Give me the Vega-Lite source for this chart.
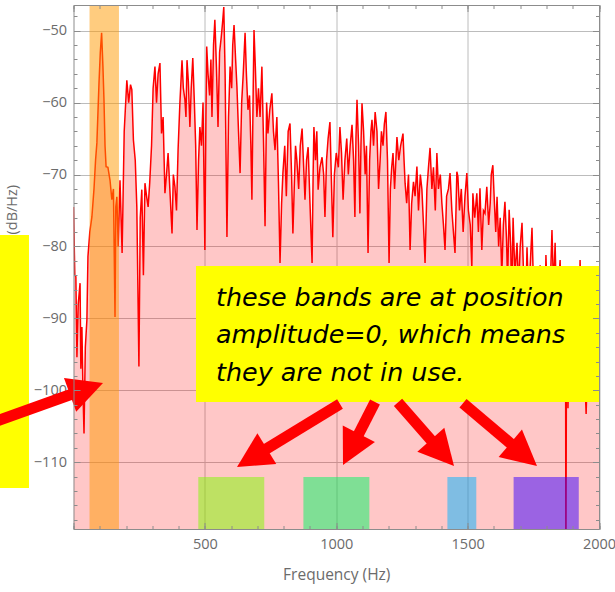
{
  "$schema": "https://vega.github.io/schema/vega-lite/v6.json",
  "width": 525.5,
  "height": 524,
  "autosize": "none",
  "padding": {"left": 73.5, "top": 5, "right": 16, "bottom": 63},
  "background": "white",
  "config": {"view": {"stroke": null}, "axis": {"labelFont": "Open Sans", "titleFont": "Open Sans"}},
  "resolve": {"axis": {"x": "independent", "y": "independent"}},
  "datasets": {
    "spectrum": [
      {"f":0,"p":-74.5},{"f":5,"p":-84},{"f":9,"p":-84.2},{"f":13,"p":-95.4},{"f":18,"p":-88},{"f":25,"p":-85.1},{"f":28,"p":-97},{"f":32,"p":-91.2},{"f":36,"p":-100},{"f":40,"p":-106},{"f":45,"p":-94},{"f":51,"p":-90.2},{"f":55,"p":-81.4},{"f":62,"p":-78},{"f":70,"p":-75.9},{"f":78,"p":-72},{"f":84,"p":-68},{"f":89,"p":-65.6},{"f":97,"p":-57.3},{"f":102,"p":-53},{"f":107,"p":-50.3},{"f":112,"p":-55},{"f":116,"p":-59.6},{"f":120,"p":-66},{"f":124,"p":-68.9},{"f":131,"p":-69},{"f":139,"p":-70.8},{"f":146,"p":-73.5},{"f":152,"p":-72},{"f":158,"p":-89.8},{"f":161,"p":-74.5},{"f":165,"p":-73.1},{"f":170,"p":-80},{"f":177,"p":-70.8},{"f":185,"p":-80.9},{"f":193,"p":-64},{"f":203,"p":-56.9},{"f":210,"p":-60},{"f":217,"p":-57.5},{"f":222,"p":-58.2},{"f":228,"p":-65.2},{"f":235,"p":-68},{"f":241,"p":-74.5},{"f":249,"p":-96.7},{"f":254,"p":-76},{"f":260,"p":-72.1},{"f":266,"p":-84},{"f":272,"p":-71.2},{"f":278,"p":-73},{"f":284,"p":-74.5},{"f":290,"p":-71.2},{"f":297,"p":-66},{"f":303,"p":-58},{"f":310,"p":-55},{"f":316,"p":-60},{"f":322,"p":-56},{"f":329,"p":-54.5},{"f":335,"p":-64.3},{"f":341,"p":-62},{"f":348,"p":-72.6},{"f":354,"p":-70},{"f":360,"p":-67},{"f":368,"p":-73},{"f":375,"p":-78.2},{"f":380,"p":-70},{"f":386,"p":-71.7},{"f":392,"p":-75},{"f":398,"p":-66.6},{"f":405,"p":-60},{"f":413,"p":-54.1},{"f":418,"p":-58},{"f":424,"p":-59.6},{"f":428,"p":-62},{"f":432,"p":-54.1},{"f":437,"p":-57},{"f":443,"p":-63.4},{"f":448,"p":-58},{"f":454,"p":-53.8},{"f":460,"p":-60},{"f":465,"p":-66},{"f":470,"p":-77.7},{"f":476,"p":-68},{"f":481,"p":-63.4},{"f":487,"p":-66},{"f":493,"p":-60},{"f":500,"p":-80.5},{"f":504,"p":-62},{"f":507,"p":-52.2},{"f":512,"p":-56},{"f":518,"p":-59},{"f":523,"p":-54},{"f":527,"p":-62},{"f":533,"p":-52},{"f":538,"p":-48.5},{"f":544,"p":-55},{"f":550,"p":-63.4},{"f":556,"p":-53},{"f":562,"p":-51},{"f":567,"p":-49},{"f":572,"p":-46.7},{"f":577,"p":-56},{"f":584,"p":-78.7},{"f":590,"p":-62},{"f":596,"p":-55},{"f":602,"p":-58},{"f":606,"p":-52},{"f":611,"p":-49.2},{"f":617,"p":-54},{"f":622,"p":-57.8},{"f":628,"p":-64},{"f":634,"p":-69.8},{"f":640,"p":-60},{"f":646,"p":-56},{"f":653,"p":-50.3},{"f":658,"p":-56},{"f":664,"p":-61},{"f":670,"p":-59},{"f":675,"p":-66},{"f":679,"p":-73.5},{"f":684,"p":-58},{"f":687,"p":-49.9},{"f":692,"p":-55},{"f":698,"p":-62},{"f":704,"p":-58},{"f":710,"p":-62},{"f":717,"p":-55},{"f":723,"p":-65},{"f":729,"p":-77.2},{"f":735,"p":-60},{"f":740,"p":-64.3},{"f":747,"p":-61},{"f":755,"p":-58.7},{"f":761,"p":-64},{"f":767,"p":-66.6},{"f":774,"p":-62},{"f":780,"p":-71},{"f":786,"p":-82.3},{"f":792,"p":-74},{"f":797,"p":-69.8},{"f":804,"p":-66},{"f":810,"p":-73},{"f":817,"p":-64},{"f":824,"p":-62.9},{"f":830,"p":-70},{"f":835,"p":-78.2},{"f":840,"p":-72},{"f":845,"p":-66},{"f":850,"p":-68},{"f":857,"p":-72},{"f":863,"p":-66},{"f":870,"p":-63.6},{"f":876,"p":-69},{"f":881,"p":-73.5},{"f":887,"p":-68},{"f":893,"p":-66.2},{"f":900,"p":-74},{"f":908,"p":-82.3},{"f":912,"p":-70},{"f":915,"p":-63.4},{"f":921,"p":-68},{"f":926,"p":-64},{"f":931,"p":-72.1},{"f":938,"p":-69},{"f":946,"p":-67.6},{"f":952,"p":-70},{"f":957,"p":-75.9},{"f":963,"p":-68},{"f":969,"p":-65},{"f":976,"p":-62.7},{"f":981,"p":-70},{"f":987,"p":-78.7},{"f":993,"p":-70},{"f":1000,"p":-67},{"f":1008,"p":-69},{"f":1014,"p":-63.4},{"f":1020,"p":-67},{"f":1026,"p":-73.5},{"f":1033,"p":-68},{"f":1040,"p":-65},{"f":1046,"p":-70},{"f":1053,"p":-66},{"f":1060,"p":-63.1},{"f":1066,"p":-68},{"f":1071,"p":-75.9},{"f":1075,"p":-65},{"f":1079,"p":-59.6},{"f":1085,"p":-66},{"f":1090,"p":-75.4},{"f":1094,"p":-66},{"f":1098,"p":-60.1},{"f":1104,"p":-64},{"f":1110,"p":-70},{"f":1115,"p":-66},{"f":1121,"p":-80.9},{"f":1127,"p":-68},{"f":1132,"p":-64},{"f":1136,"p":-62.4},{"f":1142,"p":-66},{"f":1148,"p":-61.3},{"f":1155,"p":-64},{"f":1161,"p":-72},{"f":1167,"p":-68},{"f":1172,"p":-64},{"f":1178,"p":-66},{"f":1183,"p":-63},{"f":1189,"p":-61.3},{"f":1195,"p":-68},{"f":1201,"p":-82.3},{"f":1206,"p":-72},{"f":1211,"p":-69},{"f":1216,"p":-67},{"f":1222,"p":-72},{"f":1231,"p":-64.8},{"f":1238,"p":-68},{"f":1245,"p":-66},{"f":1254,"p":-64.3},{"f":1258,"p":-68},{"f":1262,"p":-71.2},{"f":1268,"p":-74},{"f":1275,"p":-70},{"f":1281,"p":-80.5},{"f":1287,"p":-74},{"f":1294,"p":-71},{"f":1300,"p":-73},{"f":1307,"p":-68.9},{"f":1313,"p":-75},{"f":1320,"p":-70},{"f":1326,"p":-72.1},{"f":1332,"p":-77},{"f":1338,"p":-82.3},{"f":1345,"p":-72},{"f":1351,"p":-69},{"f":1357,"p":-66.3},{"f":1364,"p":-72},{"f":1370,"p":-69},{"f":1377,"p":-75},{"f":1383,"p":-67},{"f":1389,"p":-72},{"f":1396,"p":-70},{"f":1402,"p":-74},{"f":1408,"p":-77},{"f":1414,"p":-80.5},{"f":1420,"p":-73},{"f":1427,"p":-72},{"f":1433,"p":-69.8},{"f":1440,"p":-75},{"f":1446,"p":-78},{"f":1452,"p":-80.9},{"f":1459,"p":-69.6},{"f":1463,"p":-70.3},{"f":1469,"p":-75},{"f":1476,"p":-72},{"f":1483,"p":-78},{"f":1490,"p":-73},{"f":1497,"p":-69.8},{"f":1503,"p":-75},{"f":1510,"p":-77},{"f":1516,"p":-82.9},{"f":1520,"p":-72.6},{"f":1527,"p":-76},{"f":1535,"p":-72.6},{"f":1541,"p":-78},{"f":1547,"p":-71.9},{"f":1554,"p":-80.5},{"f":1560,"p":-75},{"f":1566,"p":-75.4},{"f":1573,"p":-71.7},{"f":1580,"p":-77},{"f":1586,"p":-74},{"f":1590,"p":-70},{"f":1596,"p":-68.7},{"f":1602,"p":-74},{"f":1607,"p":-78},{"f":1612,"p":-73.1},{"f":1618,"p":-80},{"f":1624,"p":-76},{"f":1630,"p":-84},{"f":1636,"p":-77},{"f":1642,"p":-73.8},{"f":1648,"p":-79},{"f":1652,"p":-85},{"f":1658,"p":-74.9},{"f":1664,"p":-80},{"f":1668,"p":-88},{"f":1673,"p":-76},{"f":1680,"p":-84},{"f":1688,"p":-79.5},{"f":1694,"p":-86},{"f":1700,"p":-80},{"f":1707,"p":-76.7},{"f":1713,"p":-84},{"f":1720,"p":-90},{"f":1726,"p":-80.1},{"f":1732,"p":-87},{"f":1739,"p":-82},{"f":1745,"p":-77.4},{"f":1751,"p":-86},{"f":1757,"p":-92},{"f":1763,"p":-84},{"f":1770,"p":-88},{"f":1776,"p":-82.6},{"f":1782,"p":-90},{"f":1788,"p":-86},{"f":1793,"p":-94},{"f":1798,"p":-81.2},{"f":1804,"p":-88},{"f":1810,"p":-95},{"f":1815,"p":-85},{"f":1821,"p":-77.7},{"f":1827,"p":-86},{"f":1833,"p":-79.5},{"f":1839,"p":-90},{"f":1845,"p":-86},{"f":1852,"p":-81.9},{"f":1858,"p":-92},{"f":1864,"p":-96},{"f":1869,"p":-90},{"f":1873,"p":-98},{"f":1874,"p":-125},{"f":1876,"p":-98},{"f":1880,"p":-94},{"f":1882,"p":-102.5},{"f":1886,"p":-95},{"f":1892,"p":-88},{"f":1898,"p":-92},{"f":1905,"p":-97},{"f":1912,"p":-90},{"f":1918,"p":-86},{"f":1923,"p":-93},{"f":1928,"p":-81.9},{"f":1934,"p":-92},{"f":1940,"p":-96},{"f":1946,"p":-98},{"f":1951,"p":-103.3},{"f":1956,"p":-97},{"f":1962,"p":-94},{"f":1968,"p":-99},{"f":1975,"p":-96},{"f":1982,"p":-100},{"f":1990,"p":-97},{"f":2000,"p":-99}
    ],
    "bands": [
      {"name":"orange","f1":61,"f2":173,"top":-40,"bot":-119.28},
      {"name":"lime","f1":475,"f2":726,"top":-112.05,"bot":-119.28},
      {"name":"green","f1":875,"f2":1126,"top":-112.05,"bot":-119.28},
      {"name":"blue","f1":1423,"f2":1533,"top":-112.05,"bot":-119.28},
      {"name":"purple","f1":1675,"f2":1923,"top":-112.05,"bot":-119.28}
    ],
    "boxes": [
      {"f1":-320,"f2":-169.4,"d1":-78.4,"d2":-113.58},
      {"f1":466.2,"f2":2000,"d1":-82.71,"d2":-101.62}
    ],
    "notes": [
      {"f":542.3,"d":-88.27,"label":"these bands are at position\namplitude=0, which means\nthey are not in use."}
    ],
    "arrows": [
      {"f0":-353.6,"d0":-105.09,"f1":8.4,"d1":-100.34,"ft":112.3,"dt":-98.98,"ang":70.2},
      {"f0":1014.3,"d0":-101.9,"f1":716.3,"d1":-108.54,"ft":622.3,"dt":-110.66,"ang":238.4},
      {"f0":1147.5,"d0":-101.62,"f1":1075.6,"d1":-106.78,"ft":1025.7,"dt":-110.38,"ang":206.9},
      {"f0":1235.0,"d0":-101.66,"f1":1375.1,"d1":-107.5,"ft":1448.2,"dt":-110.52,"ang":138.5},
      {"f0":1482.4,"d0":-101.79,"f1":1679.9,"d1":-107.9,"ft":1764.0,"dt":-110.52,"ang":130.3}
    ]
  },
  "layer": [
    {
      "data": {"name": "spectrum"},
      "mark": {"type": "area", "color": "#ff0000", "opacity": 0.22, "clip": true},
      "encoding": {
        "x": {"field": "f", "type": "quantitative", "scale": {"domain": [0, 2000], "nice": false, "zero": false},
          "axis": {"orient": "bottom", "values": [500, 1000, 1500, 2000], "format": "d", "grid": true, "gridColor": "#bcbcbc", "gridWidth": 1, "ticks": false, "domain": false, "labelFlush": false, "labelPadding": 8, "labelFontSize": 14.5, "labelColor": "#6b6b6b", "title": "Frequency (Hz)", "titleFontSize": 15.5, "titleFontWeight": "normal", "titleColor": "#6b6b6b", "titlePadding": 17, "zindex": 0}},
        "y": {"field": "p", "type": "quantitative", "scale": {"domain": [-119.28, -46.43], "nice": false, "zero": false},
          "axis": {"orient": "left", "values": [-50, -60, -70, -80, -90, -100, -110], "grid": true, "gridColor": "#bcbcbc", "gridWidth": 1, "ticks": false, "domain": false, "labelPadding": 7, "labelFontSize": 14.5, "labelColor": "#6b6b6b", "title": "Power Spectrum (dB/Hz)", "titleFontSize": 14.5, "titleFontWeight": "normal", "titleColor": "#6b6b6b", "titlePadding": 14, "zindex": 0}},
        "y2": {"datum": -119.28}
      }
    },
    {
      "data": {"name": "spectrum"},
      "mark": {"type": "line", "color": "#ff0000", "strokeWidth": 1.5, "clip": true},
      "encoding": {
        "x": {"field": "f", "type": "quantitative", "scale": {"domain": [0, 2000], "nice": false, "zero": false},
          "axis": {"orient": "bottom", "values": [0,100,200,300,400,500,600,700,800,900,1000,1100,1200,1300,1400,1500,1600,1700,1800,1900,2000], "grid": false, "labels": false, "title": null, "domain": true, "domainColor": "#8c8c8c", "ticks": true, "tickColor": "#8c8c8c", "tickSize": -3.5, "zindex": 1}},
        "y": {"field": "p", "type": "quantitative", "scale": {"domain": [-119.28, -46.43], "nice": false, "zero": false},
          "axis": {"orient": "left", "values": [-118,-116,-114,-112,-110,-108,-106,-104,-102,-100,-98,-96,-94,-92,-90,-88,-86,-84,-82,-80,-78,-76,-74,-72,-70,-68,-66,-64,-62,-60,-58,-56,-54,-52,-50,-48], "grid": false, "labels": false, "title": null, "domain": true, "domainColor": "#8c8c8c", "ticks": true, "tickColor": "#8c8c8c", "tickSize": -3.5, "zindex": 1}}
      }
    },
    {
      "data": {"name": "bands"},
      "mark": {"type": "rect", "opacity": 0.5, "clip": true},
      "encoding": {
        "x": {"field": "f1", "type": "quantitative", "scale": {"domain": [0, 2000], "nice": false, "zero": false},
          "axis": {"orient": "bottom", "values": [0, 500, 1000, 1500, 2000], "grid": false, "labels": false, "title": null, "domain": false, "ticks": true, "tickColor": "#8c8c8c", "tickSize": -6.5, "zindex": 1}},
        "x2": {"field": "f2"},
        "y": {"field": "top", "type": "quantitative", "scale": {"domain": [-119.28, -46.43], "nice": false, "zero": false},
          "axis": {"orient": "left", "values": [-50, -60, -70, -80, -90, -100, -110], "grid": false, "labels": false, "title": null, "domain": false, "ticks": true, "tickColor": "#8c8c8c", "tickSize": -6.5, "zindex": 1}},
        "y2": {"field": "bot"},
        "color": {"field": "name", "type": "nominal", "legend": null,
          "scale": {"domain": ["orange", "lime", "green", "blue", "purple"], "range": ["#ff9a00", "#7dfc00", "#00f864", "#00b4ff", "#3700ff"]}}
      }
    },
    {
      "data": {"name": "boxes"},
      "mark": {"type": "rect", "color": "#ffff00", "opacity": 1, "clip": false},
      "encoding": {
        "x": {"field": "f1", "type": "quantitative", "scale": {"domain": [0, 2000], "nice": false, "zero": false},
          "axis": {"orient": "top", "values": [0,100,200,300,400,500,600,700,800,900,1000,1100,1200,1300,1400,1500,1600,1700,1800,1900,2000], "grid": false, "labels": false, "title": null, "domain": true, "domainColor": "#8c8c8c", "ticks": true, "tickColor": "#8c8c8c", "tickSize": -3.5, "zindex": 1}},
        "x2": {"field": "f2"},
        "y": {"field": "d1", "type": "quantitative", "scale": {"domain": [-119.28, -46.43], "nice": false, "zero": false},
          "axis": {"orient": "right", "values": [-118,-116,-114,-112,-110,-108,-106,-104,-102,-100,-98,-96,-94,-92,-90,-88,-86,-84,-82,-80,-78,-76,-74,-72,-70,-68,-66,-64,-62,-60,-58,-56,-54,-52,-50,-48], "grid": false, "labels": false, "title": null, "domain": true, "domainColor": "#8c8c8c", "ticks": true, "tickColor": "#8c8c8c", "tickSize": -3.5, "zindex": 1}},
        "y2": {"field": "d2"}
      }
    },
    {
      "data": {"name": "notes"},
      "mark": {"type": "text", "align": "left", "baseline": "alphabetic", "font": "DejaVu Sans", "fontStyle": "italic", "fontSize": 25.4, "lineHeight": 37.5, "lineBreak": "\n", "color": "#000000", "clip": false},
      "encoding": {
        "x": {"field": "f", "type": "quantitative", "scale": {"domain": [0, 2000], "nice": false, "zero": false},
          "axis": {"orient": "top", "values": [0, 500, 1000, 1500, 2000], "grid": false, "labels": false, "title": null, "domain": false, "ticks": true, "tickColor": "#8c8c8c", "tickSize": -6.5, "zindex": 1}},
        "y": {"field": "d", "type": "quantitative", "scale": {"domain": [-119.28, -46.43], "nice": false, "zero": false},
          "axis": {"orient": "right", "values": [-50, -60, -70, -80, -90, -100, -110], "grid": false, "labels": false, "title": null, "domain": false, "ticks": true, "tickColor": "#8c8c8c", "tickSize": -6.5, "zindex": 1}},
        "text": {"field": "label"}
      }
    },
    {
      "data": {"name": "arrows"},
      "mark": {"type": "rule", "color": "#ff0000", "strokeWidth": 11, "strokeCap": "butt", "clip": false},
      "encoding": {
        "x": {"field": "f0", "type": "quantitative", "scale": {"domain": [0, 2000], "nice": false, "zero": false}, "axis": null},
        "y": {"field": "d0", "type": "quantitative", "scale": {"domain": [-119.28, -46.43], "nice": false, "zero": false}, "axis": null},
        "x2": {"field": "f1"},
        "y2": {"field": "d1"}
      }
    },
    {
      "data": {"name": "arrows"},
      "mark": {"type": "point", "shape": "M0,0L1.03,2L-1.03,2Z", "size": 1225, "filled": true, "color": "#ff0000", "opacity": 1, "strokeWidth": 0, "clip": false},
      "encoding": {
        "x": {"field": "ft", "type": "quantitative", "scale": {"domain": [0, 2000], "nice": false, "zero": false}, "axis": null},
        "y": {"field": "dt", "type": "quantitative", "scale": {"domain": [-119.28, -46.43], "nice": false, "zero": false}, "axis": null},
        "angle": {"field": "ang", "type": "quantitative", "scale": null}
      }
    }
  ]
}
